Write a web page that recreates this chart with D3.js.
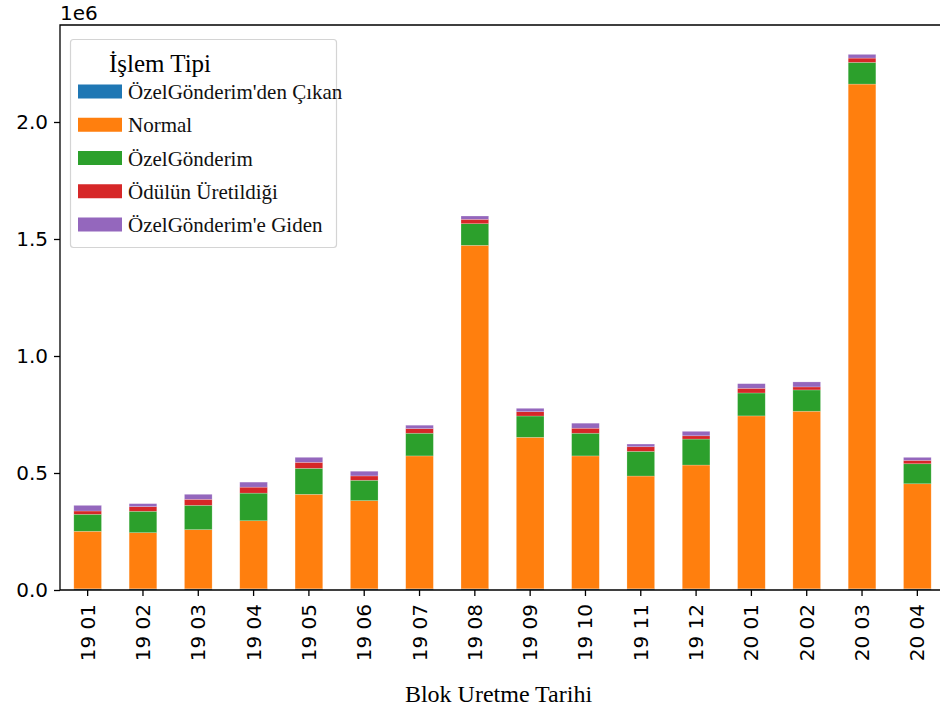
<!DOCTYPE html>
<html>
<head>
<meta charset="utf-8">
<script src="https://cdn.jsdelivr.net/npm/d3@7/dist/d3.min.js"></script>
<style>
  html, body { margin: 0; padding: 0; background: #fff; }
  svg { display: block; }
</style>
</head>
<body>
<svg id="chart" width="940" height="711"></svg>
<script>
// Monthly block counts by transaction type (stacked bars)
const months = ["19 01","19 02","19 03","19 04","19 05","19 06","19 07","19 08",
                "19 09","19 10","19 11","19 12","20 01","20 02","20 03","20 04"];

const seriesNames = ["ÖzelGönderim'den Çıkan","Normal","ÖzelGönderim","Ödülün Üretildiği","ÖzelGönderim'e Giden"];

const cikan   = [5000, 5000, 5000, 5000, 5000, 5000, 5000, 5000, 5000, 5000, 5000, 5000, 5000, 5000, 5000, 5000];
const normal  = [246000, 240000, 253000, 291000, 404000, 377000, 568000, 1468000,
                 647500, 568000, 482000, 529000, 739000, 759000, 2157000, 449000];
const ozel    = [72600, 91500, 104000, 118000, 111000, 87000, 97000, 92300,
                 91000, 97000, 105500, 111000, 98000, 91000, 92700, 85500];
const odul    = [14000, 19700, 25600, 25600, 25600, 18500, 19700, 18800,
                 18400, 21400, 19700, 14000, 20000, 12800, 18400, 14500];
const giden   = [24000, 12800, 21400, 21400, 21400, 20000, 14500, 14100,
                 14500, 21400, 11500, 19000, 19700, 21400, 15800, 12800];

const yTicks = [0, 500000, 1000000, 1500000, 2000000];
const colors = ["#1f77b4", "#ff7f0e", "#2ca02c", "#d62728", "#9467bd"];

const table = months.map((m, i) => ({
  month: m,
  [seriesNames[0]]: cikan[i],
  [seriesNames[1]]: normal[i],
  [seriesNames[2]]: ozel[i],
  [seriesNames[3]]: odul[i],
  [seriesNames[4]]: giden[i]
}));

const svg = d3.select("#chart");
const plotL = 60, plotR = 945, plotT = 25, plotB = 590;

const x = d3.scaleBand().domain(months).range([plotL, plotR])
  .paddingInner(0.5).paddingOuter(0.25);
const y = d3.scaleLinear().domain([0, 2414500]).range([plotB, plotT]);
const color = d3.scaleOrdinal().domain(seriesNames).range(colors);

const stack = d3.stack().keys(seriesNames)(table);

// bars
svg.append("g").selectAll("g").data(stack).join("g")
  .attr("fill", d => color(d.key))
  .selectAll("rect").data(d => d).join("rect")
  .attr("x", d => x(d.data.month))
  .attr("width", x.bandwidth())
  .attr("y", d => y(d[1]))
  .attr("height", d => y(d[0]) - y(d[1]))
  .attr("stroke", "rgba(255,255,255,0.35)")
  .attr("stroke-width", 0.6);

// axes
const tickFont = "'DejaVu Sans', sans-serif";
const xAxis = svg.append("g").attr("transform", `translate(0,${plotB})`)
  .call(d3.axisBottom(x).tickSize(6).tickSizeOuter(0));
xAxis.select(".domain").remove();
xAxis.selectAll(".tick line").attr("stroke", "#000").attr("stroke-width", 1.3);
xAxis.selectAll(".tick text")
  .attr("font-family", tickFont).attr("font-size", 20).attr("fill", "#000")
  .attr("transform", "rotate(-90)")
  .attr("text-anchor", "end")
  .attr("x", -14).attr("y", 0).attr("dy", "0.35em");

const yAxis = svg.append("g").attr("transform", `translate(${plotL},0)`)
  .call(d3.axisLeft(y).tickValues(yTicks).tickFormat(d => d3.format(".1f")(d / 1e6))
    .tickSize(6).tickSizeOuter(0));
yAxis.select(".domain").remove();
yAxis.selectAll(".tick line").attr("stroke", "#000").attr("stroke-width", 1.3);
yAxis.selectAll(".tick text")
  .attr("font-family", tickFont).attr("font-size", 20).attr("fill", "#000").attr("x", -12);

// spines
svg.append("path")
  .attr("d", `M${plotL},${plotB}V${plotT}H${plotR}M${plotL},${plotB}H${plotR}`)
  .attr("fill", "none").attr("stroke", "#000").attr("stroke-width", 1.3);

// offset label
svg.append("text").attr("x", plotL).attr("y", 20)
  .attr("font-family", tickFont).attr("font-size", 20).text("1e6");

// x axis title
const serif = "'Liberation Serif', 'Times New Roman', serif";
svg.append("text").attr("x", (plotL + plotR) / 2 - 4).attr("y", 702)
  .attr("text-anchor", "middle")
  .attr("font-family", serif).attr("font-size", 24)
  .text("Blok Uretme Tarihi");

// legend
const lg = svg.append("g");
svg.append("defs").append("clipPath").attr("id", "lgclip")
  .append("rect").attr("x", 60).attr("y", 30).attr("width", 283).attr("height", 230);
lg.append("rect").attr("x", 70.5).attr("y", 39.5).attr("width", 266).attr("height", 208)
  .attr("rx", 3).attr("fill", "rgba(255,255,255,0.85)")
  .attr("stroke", "#d4d4d4").attr("stroke-width", 1.2);
lg.append("text").attr("x", 160).attr("y", 72).attr("text-anchor", "middle")
  .attr("font-family", serif).attr("font-size", 25).text("İşlem Tipi");
const rowY = d3.scalePoint().domain(seriesNames).range([91.5, 224.5]);
const rows = lg.append("g").attr("clip-path", "url(#lgclip)")
  .selectAll("g").data(seriesNames).join("g")
  .attr("transform", d => `translate(0,${rowY(d)})`);
rows.append("rect").attr("x", 78).attr("y", -7).attr("width", 44).attr("height", 14)
  .attr("fill", d => color(d));
rows.append("text").attr("x", 128).attr("y", 7.5)
  .attr("font-family", serif).attr("font-size", 21).attr("fill", "#111")
  .text(d => d);
</script>
</body>
</html>
